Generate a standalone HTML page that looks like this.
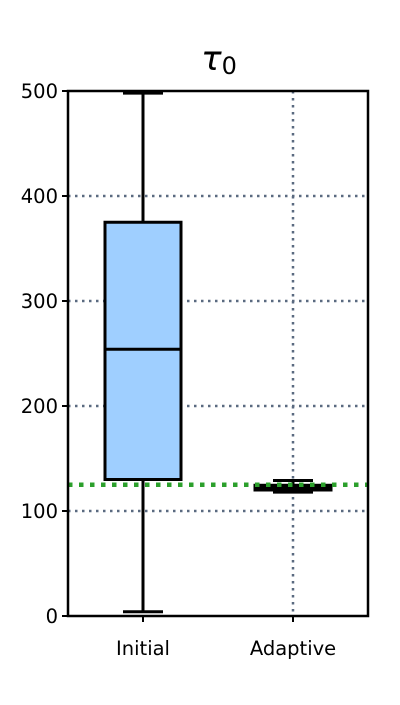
<!DOCTYPE html>
<html><head><meta charset="utf-8"><style>
body{margin:0;background:#fff;}
svg text{font-family:"DejaVu Sans","Liberation Sans",sans-serif;}
</style></head><body>
<svg id="chart" width="400" height="700"></svg>
<script>
const categories=["Initial","Adaptive"];
const whiskerLow=[4,118];
const q1=[130,120];
const medians=[254,122];
const q3=[375,124.5];
const whiskerHigh=[498,129];
const referenceValue=125;
const yTicks=[0,100,200,300,400,500];
const titleText="τ";

const NS="http://www.w3.org/2000/svg";
const svg=document.getElementById('chart');
const L=68,R=368,T=91,B=616,yMax=500;
const y=v=>B-(v/yMax)*(B-T);
const x=i=>L+(R-L)*(i+0.5)/categories.length;
function mk(tag,attrs,parent){const e=document.createElementNS(NS,tag);for(const k in attrs)e.setAttribute(k,attrs[k]);(parent||svg).appendChild(e);return e;}

yTicks.forEach(v=>{if(v>0&&v<yMax){const g=mk('line',{x1:L,x2:R,y1:y(v),y2:y(v),stroke:'#5a6a80','stroke-width':2.5,'stroke-dasharray':'2.5,4.5'});

}});
categories.forEach((c,i)=>{const g=mk('line',{x1:x(i),x2:x(i),y1:T,y2:B,stroke:'#5a6a80','stroke-width':2.5,'stroke-dasharray':'2.5,4.5'});

});

categories.forEach((c,i)=>{
 const cx=x(i),bw=76,cw=40;
 const g=mk('g',{});
 
 
 mk('line',{x1:cx,x2:cx,y1:y(whiskerLow[i]),y2:y(q1[i]),stroke:'#000','stroke-width':3},g);
 mk('line',{x1:cx,x2:cx,y1:y(q3[i]),y2:y(whiskerHigh[i]),stroke:'#000','stroke-width':3},g);
 mk('line',{x1:cx-cw/2,x2:cx+cw/2,y1:y(whiskerLow[i]),y2:y(whiskerLow[i]),stroke:'#000','stroke-width':3},g);
 mk('line',{x1:cx-cw/2,x2:cx+cw/2,y1:y(whiskerHigh[i]),y2:y(whiskerHigh[i]),stroke:'#000','stroke-width':3},g);
 mk('rect',{x:cx-bw/2,y:y(q3[i]),width:bw,height:Math.max(y(q1[i])-y(q3[i]),0.5),fill:'#9fcfff',stroke:'#000','stroke-width':3},g);
 mk('line',{x1:cx-bw/2,x2:cx+bw/2,y1:y(medians[i]),y2:y(medians[i]),stroke:'#000','stroke-width':3},g);
});

const rl=mk('line',{x1:L,x2:R,y1:y(referenceValue),y2:y(referenceValue),stroke:'#2ca02c','stroke-width':4.5,'stroke-dasharray':'4.5,6.5'});



const fr=mk('rect',{x:L,y:T,width:R-L,height:B-T,fill:'none',stroke:'#000','stroke-width':2.5});



yTicks.forEach(v=>{
 mk('line',{x1:L-6,x2:L,y1:y(v),y2:y(v),stroke:'#000','stroke-width':2});
 const t=mk('text',{x:L-10,y:y(v)+7,'text-anchor':'end','font-size':19.5});
 t.textContent=v;
 
 
});
categories.forEach((c,i)=>{
 mk('line',{x1:x(i),x2:x(i),y1:B,y2:B+6,stroke:'#000','stroke-width':2});
 const t=mk('text',{x:x(i),y:B+39,'text-anchor':'middle','font-size':19.5});
 t.textContent=c;
 
 
});

const tt=mk('text',{x:219,y:70,'text-anchor':'middle','font-size':34,'font-style':'italic'});


tt.textContent=titleText;
const sub=mk('tspan',{'font-size':24,'font-style':'normal',dy:4},tt);
sub.textContent='0';
</script>
</body></html>
